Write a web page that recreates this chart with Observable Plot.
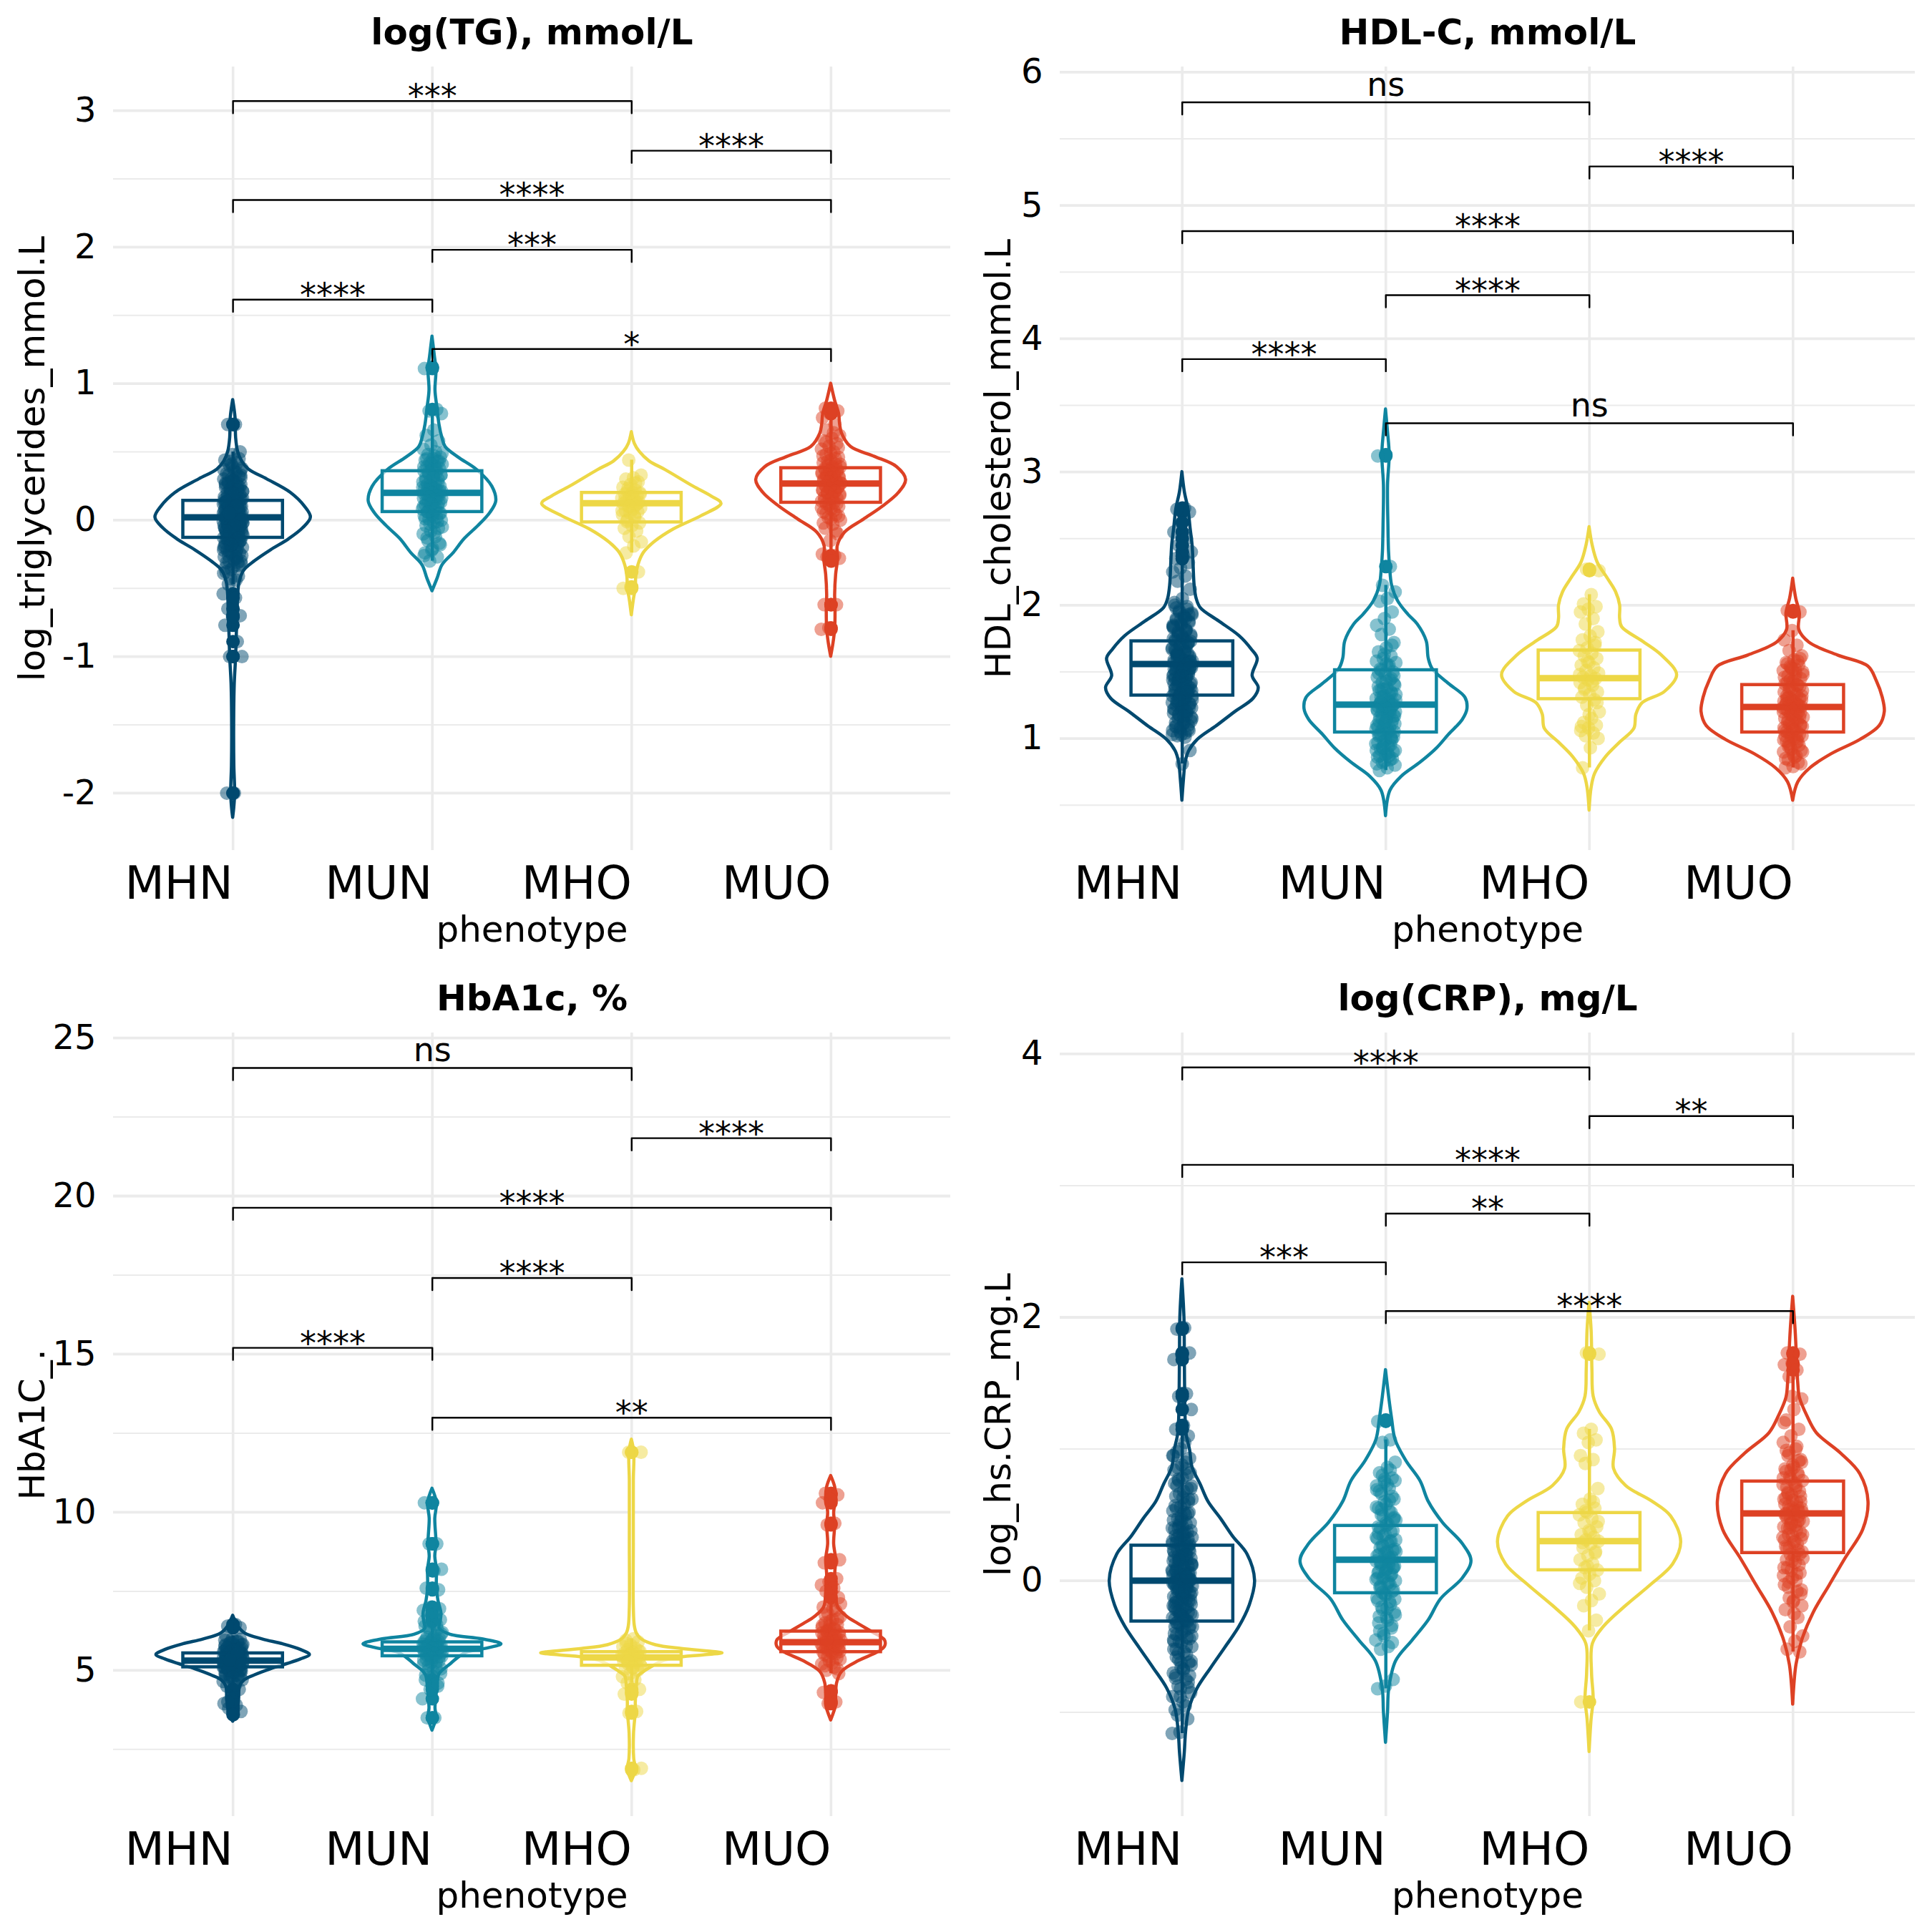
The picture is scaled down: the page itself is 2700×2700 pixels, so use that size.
<!DOCTYPE html>
<html><head><meta charset="utf-8">
<script src="https://cdn.jsdelivr.net/npm/d3@7"></script>
<script src="https://cdn.jsdelivr.net/npm/@observablehq/plot@0.6"></script>
<style>
body{margin:0;background:#fff;}
#root{position:relative;width:2700px;height:2700px;background:#fff;}
.panel{position:absolute;width:1350px;height:1350px;}
</style>
</head><body><div id="root"></div>
<script>
const categories = ["MHN","MUN","MHO","MUO"];
const colors = ["#00496f","#0f85a0","#edd746","#dd4124"];
const pairs = [[1,3],[3,4],[1,4],[2,3],[1,2],[2,4]];
const xTitle = "phenotype";

// ---------- log(TG) ----------
const tgTitle = "log(TG), mmol/L";
const tgYTitle = "log_triglycerides_mmol.L";
const tgMajor = [-2,-1,0,1,2,3];
const tgMinor = [-1.5,-0.5,0.5,1.5,2.5];
const tgBox = [[-0.129,0.02,0.142],[0.06,0.2,0.359],[-0.016,0.124,0.2],[0.128,0.268,0.381]];
const tgBracketY = [3.07,2.706,2.345,1.98,1.615,1.253];
const tgLabels = ["***","****","****","***","****","*"];
const tgPointsMHN = [0.70,0.70,0.50,0.48,0.44,0.42,0.40,0.38,0.36,0.34,0.32,0.30,0.30,0.28,0.27,0.26,0.25,0.24,0.23,0.22,0.21,0.20,0.20,0.19,0.18,0.17,0.16,0.15,0.15,0.14,0.14,0.13,0.12,0.12,0.11,0.10,0.10,0.09,0.08,0.08,0.07,0.06,0.06,0.05,0.04,0.04,0.03,0.02,0.02,0.01,0.00,0.00,-0.01,-0.02,-0.02,-0.03,-0.04,-0.05,-0.05,-0.06,-0.07,-0.08,-0.08,-0.09,-0.10,-0.11,-0.12,-0.13,-0.13,-0.14,-0.15,-0.16,-0.17,-0.18,-0.19,-0.20,-0.21,-0.22,-0.24,-0.25,-0.27,-0.28,-0.30,-0.32,-0.34,-0.38,-0.41,-0.43,-0.54,-0.57,-0.65,-0.70,-0.71,-0.77,-0.89,-1.00,-1.00,-2.00,-2.00,
  0.45,0.41,0.37,0.35,0.33,0.31,0.29,0.27,0.25,0.23,0.21,0.19,0.17,0.16,0.15,0.13,0.12,0.11,0.10,0.09,0.08,0.07,0.06,0.05,0.05,0.04,0.03,0.03,0.02,0.01,0.01,0.00,-0.01,-0.01,-0.02,-0.03,-0.04,-0.04,-0.05,-0.06,-0.07,-0.08,-0.09,-0.10,-0.11,-0.12,-0.14,-0.15,-0.17,-0.19,-0.21,-0.23,-0.26,-0.29,-0.31,-0.33,-0.36,-0.39,-0.44,-0.47,
  0.33,0.29,0.26,0.22,0.19,0.16,0.14,0.12,0.11,0.09,0.07,0.06,0.05,0.04,0.03,0.02,0.01,0.00,-0.01,-0.02,-0.03,-0.04,-0.05,-0.06,-0.07,-0.09,-0.10,-0.12,-0.14,-0.16,-0.18,-0.20,-0.23,-0.26,-0.30,0.18,0.13,0.08,0.03,-0.02,-0.06,-0.11,0.24,0.20,0.15,0.10,0.05,0.00,-0.04,-0.08,-0.13,-0.18,-0.22,-0.27,0.28,0.36,0.39,-0.35,-0.31,0.43];
const tgPointsMUN = [1.12,1.11,0.81,0.80,0.78,0.66,0.62,0.58,0.55,0.52,0.50,0.48,0.46,0.45,0.44,0.43,0.42,0.41,0.40,0.39,0.38,0.37,0.36,0.35,0.34,0.33,0.32,0.31,0.30,0.29,0.28,0.27,0.26,0.25,0.24,0.23,0.22,0.21,0.21,0.20,0.19,0.18,0.17,0.16,0.15,0.14,0.13,0.12,0.11,0.10,0.09,0.08,0.07,0.06,0.05,0.04,0.03,0.02,0.01,0.00,-0.02,-0.04,-0.06,-0.08,-0.10,-0.12,-0.15,-0.18,-0.21,-0.24,-0.27,-0.30,
  0.49,0.47,0.45,0.43,0.41,0.39,0.37,0.35,0.33,0.31,0.29,0.27,0.25,0.24,0.23,0.22,0.21,0.20,0.19,0.18,0.17,0.16,0.15,0.14,0.13,0.12,0.10,0.08,0.06,0.05,0.03,0.01,-0.01,-0.03,-0.05,-0.09,-0.13,-0.17,-0.22,-0.26];
const tgPointsMHO = [0.44,0.33,0.31,0.30,0.28,0.26,0.24,0.22,0.21,0.20,0.20,0.19,0.18,0.17,0.16,0.15,0.14,0.13,0.13,0.12,0.11,0.10,0.09,0.08,0.07,0.06,0.05,0.04,0.02,0.00,-0.02,-0.04,-0.06,-0.08,-0.12,-0.16,-0.19,-0.24,-0.38,-0.49,-0.50,
  0.27,0.23,0.19,0.17,0.15,0.12,0.10,0.07,0.03,-0.01];
const tgPointsMUO = [0.82,0.80,0.78,0.75,0.70,0.66,0.62,0.60,0.58,0.56,0.54,0.52,0.50,0.48,0.46,0.44,0.42,0.41,0.40,0.39,0.38,0.37,0.36,0.35,0.34,0.33,0.32,0.31,0.30,0.29,0.28,0.27,0.27,0.26,0.25,0.24,0.23,0.22,0.21,0.20,0.19,0.18,0.17,0.16,0.15,0.14,0.13,0.12,0.10,0.08,0.06,0.04,0.02,0.00,-0.03,-0.06,-0.10,-0.15,-0.25,-0.26,-0.27,-0.28,-0.30,-0.62,-0.62,-0.79,-0.80,
  0.64,0.57,0.53,0.49,0.47,0.45,0.43,0.41,0.39,0.38,0.37,0.36,0.35,0.34,0.33,0.32,0.31,0.30,0.29,0.28,0.27,0.26,0.25,0.24,0.23,0.22,0.21,0.20,0.18,0.16,0.14,0.12,0.11,0.09,0.07,0.05,0.03,0.01,-0.02,-0.08];
const tgViolinMHN = [[0.88,0],[0.75,0.012],[0.6,0.015],[0.5,0.025],[0.43,0.045],[0.37,0.08],[0.3,0.17],[0.2,0.29],[0.1,0.36],[0.02,0.39],[-0.06,0.35],[-0.14,0.28],[-0.22,0.19],[-0.3,0.11],[-0.37,0.055],[-0.45,0.033],[-0.55,0.025],[-0.7,0.022],[-0.85,0.018],[-1.0,0.015],[-1.2,0.008],[-1.5,0.005],[-1.8,0.006],[-2.0,0.01],[-2.1,0.006],[-2.18,0]];
const tgViolinMUN = [[1.345,0],[1.2,0.012],[1.1,0.02],[0.95,0.015],[0.82,0.025],[0.7,0.035],[0.6,0.05],[0.536,0.066],[0.46,0.13],[0.367,0.225],[0.246,0.30],[0.138,0.32],[0.053,0.29],[-0.043,0.23],[-0.14,0.16],[-0.24,0.107],[-0.33,0.05],[-0.43,0.025],[-0.52,0]];
const tgViolinMHO = [[0.645,0],[0.56,0.015],[0.5,0.04],[0.43,0.09],[0.367,0.17],[0.246,0.31],[0.174,0.40],[0.12,0.45],[0.03,0.35],[-0.068,0.21],[-0.16,0.115],[-0.24,0.06],[-0.33,0.033],[-0.42,0.022],[-0.5,0.02],[-0.575,0.011],[-0.696,0]];
const tgViolinMUO = [[1.0,0],[0.874,0.02],[0.778,0.04],[0.7,0.045],[0.633,0.055],[0.536,0.1],[0.464,0.22],[0.39,0.33],[0.295,0.376],[0.2,0.34],[0.1,0.26],[0.005,0.165],[-0.09,0.07],[-0.19,0.033],[-0.28,0.035],[-0.4,0.025],[-0.55,0.02],[-0.65,0.022],[-0.8,0.02],[-0.9,0.012],[-1.0,0]];

// ---------- HDL-C ----------
const hdlTitle = "HDL-C, mmol/L";
const hdlYTitle = "HDL_cholesterol_mmol.L";
const hdlMajor = [1,2,3,4,5,6];
const hdlMinor = [0.5,1.5,2.5,3.5,4.5,5.5];
const hdlBox = [[1.323,1.559,1.73],[1.046,1.254,1.513],[1.296,1.453,1.661],[1.046,1.236,1.402]];
const hdlBracketY = [5.774,5.293,4.808,4.327,3.847,3.366];
const hdlLabels = ["ns","****","****","****","****","ns"];
const hdlPointsMHN = [2.73,2.72,2.70,2.62,2.55,2.50,2.45,2.40,2.37,2.35,2.32,2.28,2.25,2.22,2.18,2.12,2.05,2.00,1.97,1.95,1.93,1.91,1.89,1.87,1.85,1.83,1.81,1.79,1.77,1.75,1.73,1.72,1.70,1.68,1.66,1.64,1.62,1.60,1.59,1.58,1.56,1.55,1.54,1.52,1.50,1.49,1.47,1.45,1.43,1.41,1.39,1.37,1.35,1.33,1.32,1.30,1.28,1.26,1.24,1.22,1.20,1.18,1.16,1.14,1.12,1.10,1.08,1.06,1.04,1.02,0.91,0.81,
  2.02,1.99,1.96,1.94,1.92,1.90,1.88,1.86,1.84,1.82,1.80,1.78,1.76,1.74,1.71,1.69,1.67,1.65,1.63,1.61,1.59,1.57,1.56,1.55,1.53,1.51,1.50,1.48,1.46,1.44,1.42,1.40,1.38,1.36,1.34,1.33,1.31,1.29,1.27,1.25,1.23,1.21,1.19,1.17,1.15,1.13,1.11,1.09,1.07,1.05,1.03,1.01,1.60,1.58,1.54,1.52,1.48,1.46,1.36,1.31,
  1.98,1.93,1.89,1.85,1.81,1.77,1.73,1.70,1.67,1.64,1.61,1.58,1.56,1.54,1.52,1.50,1.48,1.46,1.44,1.42,1.40,1.38,1.36,1.34,1.32,1.30,1.28,1.26,1.24,1.22,1.20,1.18,1.15,1.12,1.09,1.06,1.03,1.75,1.69,1.63,1.57,1.51,1.45,1.39,1.33,1.27,1.21,1.62,1.53,1.47,1.41,1.35,1.29,1.23,1.17,1.66,1.72,1.78,1.84,1.90];
const hdlPointsMUN = [3.13,3.12,2.29,2.15,2.10,2.05,2.03,1.95,1.90,1.85,1.82,1.78,1.72,1.68,1.65,1.62,1.60,1.57,1.54,1.52,1.50,1.48,1.46,1.44,1.42,1.40,1.38,1.36,1.34,1.32,1.30,1.28,1.27,1.26,1.25,1.24,1.23,1.22,1.20,1.18,1.16,1.14,1.12,1.10,1.08,1.06,1.05,1.04,1.02,1.00,0.98,0.96,0.94,0.92,0.90,0.88,0.86,0.84,0.82,0.80,0.78,0.76,
  1.70,1.63,1.58,1.55,1.51,1.47,1.43,1.39,1.35,1.31,1.29,1.27,1.26,1.25,1.24,1.22,1.21,1.19,1.17,1.15,1.13,1.11,1.09,1.07,1.05,1.03,1.01,0.99,0.97,0.95,0.93,0.91,0.89,0.87,0.85,0.83,0.81,1.33,1.37,1.41,
  1.56,1.49,1.45,1.37,1.33,1.29,1.27,1.25,1.23,1.21,1.19,1.15,1.11,1.07,1.03,0.99,0.95,0.91,0.87,1.31,1.17,1.13,1.09,1.01,0.93];
const hdlPointsMHO = [2.27,2.26,2.08,2.01,1.99,1.97,1.95,1.90,1.86,1.80,1.77,1.74,1.70,1.68,1.66,1.64,1.62,1.60,1.57,1.55,1.53,1.51,1.49,1.47,1.46,1.45,1.44,1.42,1.40,1.38,1.35,1.33,1.31,1.29,1.25,1.20,1.15,1.12,1.10,1.08,1.06,1.04,1.02,1.00,0.93,0.78,
  1.72,1.58,1.48,1.43,1.37,1.27,1.18,1.09];
const hdlPointsMUO = [1.96,1.95,1.81,1.74,1.70,1.66,1.62,1.59,1.57,1.55,1.53,1.51,1.49,1.47,1.45,1.43,1.41,1.40,1.38,1.36,1.34,1.32,1.30,1.29,1.28,1.26,1.25,1.24,1.23,1.22,1.20,1.18,1.16,1.14,1.12,1.10,1.08,1.06,1.05,1.04,1.02,1.00,0.98,0.95,0.92,0.90,0.87,0.84,0.81,0.79,0.78,
  1.58,1.54,1.50,1.46,1.42,1.39,1.37,1.35,1.33,1.31,1.29,1.27,1.26,1.25,1.24,1.23,1.22,1.21,1.19,1.17,1.15,1.13,1.11,1.09,1.07,1.05,1.03,1.01,0.99,0.97,0.94,0.91,0.88,0.85,0.82,1.44,1.48,1.52,1.56,1.60,
  1.52,1.46,1.40,1.36,1.32,1.28,1.26,1.24,1.22,1.20,1.18,1.14,1.10,1.06,1.02,0.98,0.94,0.90,0.86,1.30,1.16,1.12,1.08,1.00,0.96];
const hdlViolinMHN = [[3.0,0],[2.85,0.012],[2.72,0.03],[2.58,0.04],[2.45,0.05],[2.3,0.055],[2.15,0.06],[2.05,0.07],[1.98,0.09],[1.88,0.18],[1.77,0.28],[1.67,0.34],[1.6,0.37],[1.47,0.345],[1.38,0.375],[1.3,0.35],[1.2,0.26],[1.095,0.17],[0.99,0.075],[0.905,0.033],[0.82,0.016],[0.7,0.008],[0.534,0]];
const hdlViolinMUN = [[3.47,0],[3.3,0.01],[3.13,0.018],[2.9,0.01],[2.6,0.012],[2.4,0.015],[2.29,0.02],[2.15,0.03],[2.03,0.06],[1.93,0.11],[1.857,0.156],[1.73,0.2],[1.6,0.21],[1.52,0.23],[1.41,0.31],[1.307,0.39],[1.22,0.40],[1.14,0.377],[1.03,0.31],[0.926,0.25],[0.82,0.17],[0.714,0.077],[0.61,0.022],[0.418,0]];
const hdlViolinMHO = [[2.587,0],[2.45,0.015],[2.32,0.04],[2.2,0.09],[2.1,0.13],[2.0,0.15],[1.9,0.15],[1.836,0.16],[1.73,0.26],[1.624,0.355],[1.476,0.43],[1.35,0.37],[1.265,0.26],[1.18,0.23],[1.074,0.22],[0.97,0.15],[0.86,0.08],[0.735,0.027],[0.63,0.01],[0.46,0]];
const hdlViolinMUO = [[2.2,0],[2.05,0.015],[1.94,0.033],[1.815,0.03],[1.72,0.08],[1.624,0.22],[1.54,0.37],[1.434,0.41],[1.307,0.44],[1.2,0.45],[1.095,0.425],[0.99,0.33],[0.884,0.19],[0.778,0.085],[0.672,0.025],[0.534,0]];

// ---------- HbA1c ----------
const hbaTitle = "HbA1c, %";
const hbaYTitle = "HbA1C_.";
const hbaMajor = [5,10,15,20,25];
const hbaMinor = [2.5,7.5,12.5,17.5,22.5];
const hbaBox = [[5.1,5.31,5.54],[5.45,5.68,5.89],[5.15,5.41,5.58],[5.58,5.89,6.23]];
const hbaBracketY = [24.05,21.83,19.63,17.41,15.2,12.99];
const hbaLabels = ["ns","****","****","****","****","**"];
const hbaPointsMHN = [6.45,6.40,6.35,6.0,5.95,5.9,5.85,5.8,5.75,5.7,5.65,5.62,5.6,5.58,5.55,5.52,5.5,5.48,5.45,5.42,5.4,5.38,5.35,5.33,5.31,5.3,5.28,5.25,5.22,5.2,5.18,5.15,5.12,5.1,5.08,5.05,5.0,4.95,4.9,4.85,4.8,4.7,4.6,4.5,4.4,4.1,3.95,3.9,3.8,3.7,3.6,
  6.1,5.92,5.88,5.82,5.78,5.72,5.68,5.64,5.61,5.59,5.56,5.54,5.51,5.49,5.46,5.44,5.41,5.39,5.36,5.34,5.32,5.29,5.27,5.24,5.21,5.19,5.16,5.13,5.11,5.09,5.06,5.03,4.98,4.92,4.88,4.82,4.75,4.65,4.55,4.0,
  5.98,5.86,5.76,5.66,5.58,5.52,5.46,5.4,5.34,5.28,5.22,5.16,5.1,5.04,4.96,4.86,5.6,5.5,5.42,5.36,5.3,5.24,5.18,5.12,5.06,5.0,5.7,5.64,5.56,5.48,5.38,5.26,5.14,5.02,4.9,4.78,5.8,5.54,5.32,5.2];
const hbaPointsMUN = [10.3,10.3,9.0,9.0,8.2,8.15,7.6,7.55,7.0,6.9,6.8,6.7,6.6,6.5,6.4,6.3,6.25,6.2,6.1,6.05,6.0,5.95,5.9,5.87,5.85,5.8,5.78,5.75,5.72,5.7,5.68,5.65,5.62,5.6,5.58,5.55,5.52,5.5,5.45,5.4,5.35,5.3,5.25,5.2,5.1,5.0,4.9,4.8,4.7,4.5,4.4,4.1,3.5,3.5,
  6.95,6.75,6.55,6.45,6.35,6.15,6.02,5.97,5.92,5.88,5.83,5.79,5.76,5.73,5.69,5.66,5.63,5.59,5.56,5.53,5.48,5.43,5.38,5.32,5.27,5.15,5.05,4.95,4.85,4.6];
const hbaPointsMHO = [11.9,11.9,6.0,5.95,5.9,5.8,5.75,5.7,5.65,5.6,5.58,5.55,5.5,5.48,5.45,5.42,5.4,5.38,5.35,5.3,5.25,5.2,5.15,5.1,5.05,5.0,4.9,4.8,4.7,4.6,4.4,4.3,4.25,3.7,3.65,1.9,1.85,
  5.85,5.62,5.52,5.44,5.36,5.28,5.18,5.08];
const hbaPointsMUO = [10.6,10.55,10.4,10.3,9.65,9.6,8.5,8.45,8.4,7.9,7.8,7.7,7.6,7.5,7.3,7.2,7.0,6.9,6.8,6.7,6.6,6.5,6.45,6.4,6.35,6.3,6.25,6.2,6.15,6.1,6.05,6.0,5.95,5.9,5.88,5.85,5.8,5.75,5.7,5.65,5.6,5.55,5.5,5.4,5.3,5.2,5.1,5.0,4.9,4.35,4.3,4.0,3.95,
  7.1,6.95,6.75,6.62,6.55,6.42,6.32,6.22,6.12,6.02,5.97,5.92,5.87,5.83,5.78,5.72,5.67,5.62,5.58,5.52,5.45,5.35,5.25,5.15,5.05,6.28,6.18,6.08,5.98,5.77];
const hbaViolinMHN = [[6.73,0],[6.4,0.025],[6.17,0.06],[5.98,0.15],[5.83,0.25],[5.65,0.34],[5.49,0.385],[5.35,0.34],[5.2,0.27],[5.04,0.19],[4.85,0.11],[4.7,0.06],[4.5,0.035],[4.1,0.03],[3.8,0.025],[3.5,0.01],[3.38,0]];
const hbaViolinMUN = [[10.75,0],[10.3,0.022],[9.8,0.014],[9.0,0.02],[8.6,0.014],[8.2,0.022],[7.6,0.022],[7.2,0.03],[6.8,0.045],[6.5,0.04],[6.32,0.036],[6.13,0.09],[5.98,0.255],[5.83,0.346],[5.7,0.28],[5.56,0.17],[5.4,0.13],[5.19,0.09],[4.89,0.036],[4.6,0.025],[4.2,0.02],[3.8,0.015],[3.5,0.02],[3.1,0]];
const hbaViolinMHO = [[12.3,0],[11.9,0.012],[11,0.01],[9,0.01],[7,0.01],[6.4,0.015],[6.17,0.025],[5.98,0.05],[5.8,0.12],[5.68,0.25],[5.58,0.42],[5.54,0.455],[5.48,0.36],[5.38,0.21],[5.25,0.14],[5.11,0.1],[4.95,0.06],[4.81,0.033],[4.5,0.025],[4.0,0.02],[3.7,0.02],[3.0,0.011],[2.2,0.012],[1.87,0.02],[1.5,0]];
const hbaViolinMUO = [[11.15,0],[10.8,0.02],[10.4,0.025],[10,0.015],[9.6,0.02],[9,0.015],[8.5,0.025],[8,0.02],[7.5,0.025],[7.0,0.035],[6.7,0.08],[6.47,0.137],[6.2,0.21],[5.95,0.27],[5.75,0.27],[5.56,0.23],[5.3,0.14],[4.96,0.055],[4.6,0.03],[4.2,0.025],[3.9,0.025],[3.42,0]];

// ---------- log(CRP) ----------
const crpTitle = "log(CRP), mg/L";
const crpYTitle = "log_hs.CRP_mg.L";
const crpMajor = [0,2,4];
const crpMinor = [-1,1,3];
const crpBox = [[-0.309,0,0.267],[-0.094,0.159,0.417],[0.08,0.3,0.515],[0.211,0.511,0.754]];
const crpBracketY = [3.898,3.528,3.158,2.788,2.418,2.048];
const crpLabels = ["****","**","****","**","***","****"];
const crpPointsMHN = [1.92,1.91,1.73,1.72,1.68,1.42,1.40,1.30,1.18,1.15,1.10,1.00,0.95,0.90,0.86,0.82,0.78,0.74,0.70,0.66,0.62,0.58,0.55,0.52,0.49,0.46,0.43,0.40,0.38,0.36,0.34,0.32,0.30,0.28,0.26,0.24,0.22,0.20,0.18,0.16,0.14,0.12,0.10,0.08,0.06,0.05,0.04,0.03,0.02,0.01,0.00,-0.01,-0.02,-0.03,-0.04,-0.05,-0.06,-0.08,-0.10,-0.12,-0.14,-0.16,-0.18,-0.20,-0.22,-0.24,-0.26,-0.28,-0.30,-0.32,-0.34,-0.37,-0.40,-0.43,-0.46,-0.50,-0.54,-0.58,-0.62,-0.66,-0.70,-0.75,-0.80,-0.85,-0.92,-0.98,-1.05,-1.15,-1.16,
  1.05,0.98,0.93,0.88,0.84,0.80,0.76,0.72,0.68,0.64,0.60,0.56,0.53,0.50,0.47,0.44,0.41,0.39,0.37,0.35,0.33,0.31,0.29,0.27,0.25,0.23,0.21,0.19,0.17,0.15,0.13,0.11,0.09,0.07,0.05,0.03,0.01,-0.01,-0.03,-0.05,-0.07,-0.09,-0.11,-0.13,-0.15,-0.17,-0.19,-0.21,-0.23,-0.25,-0.27,-0.29,-0.31,-0.33,-0.35,-0.38,-0.41,-0.44,-0.47,-0.52,-0.56,-0.60,-0.64,-0.68,-0.72,-0.77,-0.82,-0.88,-0.95,-1.02,0.06,0.02,-0.02,-0.06,0.16,0.12,-0.12,-0.16,0.24,-0.24,
  0.95,0.85,0.77,0.70,0.63,0.57,0.51,0.45,0.40,0.36,0.32,0.28,0.25,0.22,0.19,0.16,0.13,0.10,0.07,0.04,0.01,-0.02,-0.05,-0.08,-0.11,-0.14,-0.17,-0.20,-0.23,-0.26,-0.29,-0.32,-0.36,-0.40,-0.45,-0.50,-0.55,-0.61,-0.67,-0.74,-0.81,-0.88,0.30,0.20,0.10,0.00,-0.10,-0.20,-0.30,0.42,-0.42,0.52,-0.52,0.62,-0.62,0.15,0.05,-0.05,-0.15,0.35,-0.35,0.26,-0.26,0.08,-0.08,0.72,-0.72,0.46,-0.46,0.03];
const crpPointsMUN = [1.22,1.21,1.07,1.05,0.90,0.86,0.82,0.78,0.75,0.72,0.70,0.66,0.62,0.58,0.55,0.52,0.49,0.46,0.43,0.40,0.38,0.35,0.32,0.30,0.27,0.24,0.22,0.20,0.18,0.16,0.15,0.14,0.12,0.10,0.08,0.06,0.04,0.02,0.00,-0.02,-0.05,-0.08,-0.10,-0.13,-0.16,-0.20,-0.24,-0.28,-0.32,-0.36,-0.40,-0.45,-0.50,-0.52,-0.75,-0.80,-0.82,
  0.84,0.80,0.76,0.73,0.68,0.64,0.60,0.56,0.53,0.50,0.47,0.44,0.41,0.37,0.34,0.31,0.28,0.25,0.23,0.21,0.19,0.17,0.13,0.11,0.09,0.07,0.05,0.03,0.01,-0.01,-0.04,-0.07,-0.11,-0.15,-0.18,-0.22,-0.26,-0.30,-0.38,-0.47,
  0.77,0.69,0.61,0.54,0.48,0.42,0.36,0.30,0.26,0.22,0.18,0.14,0.10,0.06,0.02,-0.03,-0.09,-0.14,-0.21,-0.27,-0.34,-0.42,0.33,0.12,-0.06];
const crpPointsMHO = [1.73,1.72,1.15,1.12,1.07,1.05,0.95,0.92,0.89,0.70,0.62,0.58,0.55,0.52,0.50,0.47,0.44,0.41,0.38,0.35,0.33,0.31,0.30,0.28,0.25,0.22,0.19,0.16,0.13,0.10,0.08,0.05,0.02,0.00,-0.05,-0.10,-0.15,-0.19,-0.30,-0.38,-0.92,
  0.60,0.53,0.45,0.37,0.29,0.21,0.11,-0.02];
const crpPointsMUO = [1.73,1.72,1.65,1.64,1.60,1.55,1.38,1.30,1.22,1.15,1.10,1.05,1.00,0.95,0.92,0.88,0.85,0.82,0.79,0.76,0.74,0.71,0.68,0.65,0.62,0.60,0.57,0.55,0.53,0.51,0.49,0.47,0.45,0.42,0.40,0.37,0.34,0.31,0.28,0.25,0.22,0.19,0.16,0.12,0.08,0.04,0.00,-0.05,-0.10,-0.16,-0.22,-0.28,-0.35,-0.42,-0.46,-0.52,-0.54,
  1.40,1.20,1.02,0.97,0.90,0.86,0.83,0.80,0.77,0.73,0.70,0.67,0.64,0.61,0.58,0.56,0.54,0.52,0.50,0.48,0.46,0.44,0.41,0.38,0.35,0.32,0.29,0.26,0.23,0.20,0.17,0.14,0.10,0.06,0.02,-0.03,-0.08,-0.13,-0.19,-0.25,
  0.99,0.91,0.84,0.78,0.72,0.66,0.60,0.55,0.50,0.45,0.40,0.35,0.30,0.25,0.20,0.15,0.10,0.05,-0.01,-0.07,-0.15,0.63,0.53,0.43,0.33];
const crpViolinMHN = [[2.29,0],[2.0,0.01],[1.7,0.012],[1.4,0.014],[1.12,0.02],[0.99,0.038],[0.86,0.05],[0.73,0.09],[0.6,0.128],[0.47,0.19],[0.334,0.25],[0.2,0.32],[0.0,0.357],[-0.19,0.33],[-0.35,0.28],[-0.51,0.21],[-0.666,0.14],[-0.82,0.074],[-0.98,0.033],[-1.15,0.018],[-1.3,0.012],[-1.52,0]];
const crpViolinMUN = [[1.6,0],[1.39,0.016],[1.23,0.03],[1.07,0.047],[0.91,0.1],[0.756,0.17],[0.6,0.21],[0.44,0.28],[0.28,0.377],[0.15,0.42],[0.018,0.377],[-0.14,0.27],[-0.3,0.21],[-0.455,0.13],[-0.61,0.05],[-0.82,0.016],[-1.0,0.01],[-1.23,0]];
const crpViolinMHO = [[2.11,0],[1.9,0.01],[1.6,0.014],[1.4,0.02],[1.28,0.05],[1.15,0.11],[1.0,0.125],[0.85,0.12],[0.72,0.18],[0.6,0.31],[0.49,0.40],[0.295,0.45],[0.124,0.41],[-0.034,0.3],[-0.19,0.18],[-0.35,0.07],[-0.48,0.016],[-0.7,0.012],[-0.9,0.02],[-1.05,0.01],[-1.3,0]];
const crpViolinMUO = [[2.157,0],[1.9,0.012],[1.65,0.02],[1.5,0.025],[1.39,0.033],[1.25,0.07],[1.12,0.117],[0.967,0.235],[0.81,0.33],[0.6,0.37],[0.387,0.344],[0.176,0.26],[-0.034,0.18],[-0.245,0.1],[-0.455,0.044],[-0.64,0.016],[-0.94,0]];

// ---------- panel configuration (built from the arrays above) ----------
const panels = [
  {left:0, top:0, ml:158, mr:22, domain:[-2.42,3.32], major:tgMajor, minor:tgMinor, title:tgTitle, ytitle:tgYTitle, box:tgBox, bracketY:tgBracketY, labels:tgLabels,
   points:[tgPointsMHN,tgPointsMUN,tgPointsMHO,tgPointsMUO], violins:[tgViolinMHN,tgViolinMUN,tgViolinMHO,tgViolinMUO]},
  {left:1350, top:0, ml:131, mr:24, domain:[0.16,6.04], major:hdlMajor, minor:hdlMinor, title:hdlTitle, ytitle:hdlYTitle, box:hdlBox, bracketY:hdlBracketY, labels:hdlLabels,
   points:[hdlPointsMHN,hdlPointsMUN,hdlPointsMHO,hdlPointsMUO], violins:[hdlViolinMHN,hdlViolinMUN,hdlViolinMHO,hdlViolinMUO]},
  {left:0, top:1350, ml:158, mr:22, domain:[0.38,25.16], major:hbaMajor, minor:hbaMinor, title:hbaTitle, ytitle:hbaYTitle, box:hbaBox, bracketY:hbaBracketY, labels:hbaLabels,
   points:[hbaPointsMHN,hbaPointsMUN,hbaPointsMHO,hbaPointsMUO], violins:[hbaViolinMHN,hbaViolinMUN,hbaViolinMHO,hbaViolinMUO]},
  {left:1350, top:1350, ml:131, mr:24, domain:[-1.79,4.16], major:crpMajor, minor:crpMinor, title:crpTitle, ytitle:crpYTitle, box:crpBox, bracketY:crpBracketY, labels:crpLabels,
   points:[crpPointsMHN,crpPointsMUN,crpPointsMHO,crpPointsMUO], violins:[crpViolinMHN,crpViolinMUN,crpViolinMHO,crpViolinMUO]}
];

const W = 1350, H = 1350, MT = 93, MB = 162;
const grid = "#ebebeb";
const LW = 4.5;
// deterministic horizontal jitter offset (in category units)
const jitterWidth = 0.05;
const jitter = i => (((i * 0.6180339887) % 1) - 0.5) * 2 * jitterWidth;

function makePanel(p) {
  const span = p.domain[1] - p.domain[0];
  const tip = span * 17 / (H - MT - MB);
  const pts = [];
  p.points.forEach((arr, g) => arr.forEach((v, i) => pts.push({g, v, j: jitter(i + g * 37 + 1)})));
  const stats = p.box.map(([q1, med, q3], g) => {
    const iqr = q3 - q1, lo = q1 - 1.5 * iqr, hi = q3 + 1.5 * iqr;
    const inside = p.points[g].filter(v => v >= lo && v <= hi);
    return {g, q1, med, q3,
      wlo: Math.min(q1, d3.min(inside)), whi: Math.max(q3, d3.max(inside)),
      out: p.points[g].filter(v => v < lo || v > hi)};
  });
  const outliers = stats.flatMap(s => s.out.map(v => ({g: s.g, v})));
  const brackets = pairs.flatMap(([a, b], k) => {
    const y = p.bracketY[k];
    return [{k, x: a, y: y - tip}, {k, x: a, y}, {k, x: b, y}, {k, x: b, y: y - tip}];
  });
  const labels = pairs.map(([a, b], k) => ({x: (a + b) / 2, y: p.bracketY[k], t: p.labels[k]}));
  const starLabels = labels.filter(d => d.t.startsWith("*"));
  const textLabels = labels.filter(d => !d.t.startsWith("*"));

  return Plot.plot({
    width: W, height: H,
    marginLeft: p.ml, marginRight: p.mr, marginTop: MT, marginBottom: MB,
    style: {fontFamily: "'DejaVu Sans', sans-serif", background: "white", color: "black"},
    x: {domain: [0.4, 4.6]},
    y: {domain: p.domain},
    color: {type: "ordinal", domain: [0, 1, 2, 3], range: colors},
    marks: [
      Plot.ruleY(p.minor, {stroke: grid, strokeWidth: 2}),
      Plot.ruleY(p.major, {stroke: grid, strokeWidth: 3.8}),
      Plot.ruleX([1, 2, 3, 4], {stroke: grid, strokeWidth: 3.6}),
      ...p.violins.map((vi, g) => Plot.areaX(vi, {
        y: d => d[0], x1: d => g + 1 - d[1], x2: d => g + 1 + d[1],
        curve: "catmull-rom", fill: "white", stroke: colors[g], strokeWidth: LW
      })),
      Plot.ruleX(stats, {x: d => d.g + 1, y1: "q3", y2: "whi", stroke: "g", strokeWidth: LW}),
      Plot.ruleX(stats, {x: d => d.g + 1, y1: "wlo", y2: "q1", stroke: "g", strokeWidth: LW}),
      Plot.rect(stats, {x1: d => d.g + 1 - 0.25, x2: d => d.g + 1 + 0.25, y1: "q1", y2: "q3",
        fill: "white", fillOpacity: 0.65, stroke: "g", strokeWidth: LW}),
      Plot.ruleY(stats, {y: "med", x1: d => d.g + 1 - 0.25, x2: d => d.g + 1 + 0.25, stroke: "g", strokeWidth: 9}),
      Plot.dot(outliers, {x: d => d.g + 1, y: "v", r: 9.5, fill: "g"}),
      Plot.dot(pts, {x: d => d.g + 1 + d.j, y: "v", r: 9.5, fill: "g", fillOpacity: 0.5}),
      Plot.line(brackets, {x: "x", y: "y", z: "k", stroke: "black", strokeWidth: 2.4}),
      Plot.text(starLabels, {x: "x", y: "y", text: "t", fontSize: 46, lineAnchor: "bottom", dy: 9, fill: "black"}),
      Plot.text(textLabels, {x: "x", y: "y", text: "t", fontSize: 46, lineAnchor: "bottom", dy: -9.5, fill: "black"}),
      Plot.axisY({ticks: p.major, tickFormat: d => String(d), tickSize: 0, tickPadding: 24, fontSize: 48, label: null}),
      Plot.axisX({ticks: [1, 2, 3, 4], tickFormat: d => categories[d - 1], tickSize: 0, tickPadding: 22,
        fontSize: 64, textAnchor: "end", label: null}),
      Plot.text([p.title], {frameAnchor: "top", dy: -32, lineAnchor: "bottom", fontSize: 50, fontWeight: "bold", fill: "black"}),
      Plot.text([xTitle], {frameAnchor: "bottom", dy: 127, lineAnchor: "bottom", fontSize: 50, fill: "black"}),
      Plot.text([p.ytitle], {frameAnchor: "left", dx: 61 - p.ml, rotate: -90, textAnchor: "middle", lineAnchor: "bottom", fontSize: 50, fill: "black"})
    ]
  });
}

const root = document.getElementById("root");
panels.forEach(p => {
  const div = document.createElement("div");
  div.className = "panel";
  div.style.left = p.left + "px";
  div.style.top = p.top + "px";
  div.appendChild(makePanel(p));
  root.appendChild(div);
});
</script>
</body></html>
